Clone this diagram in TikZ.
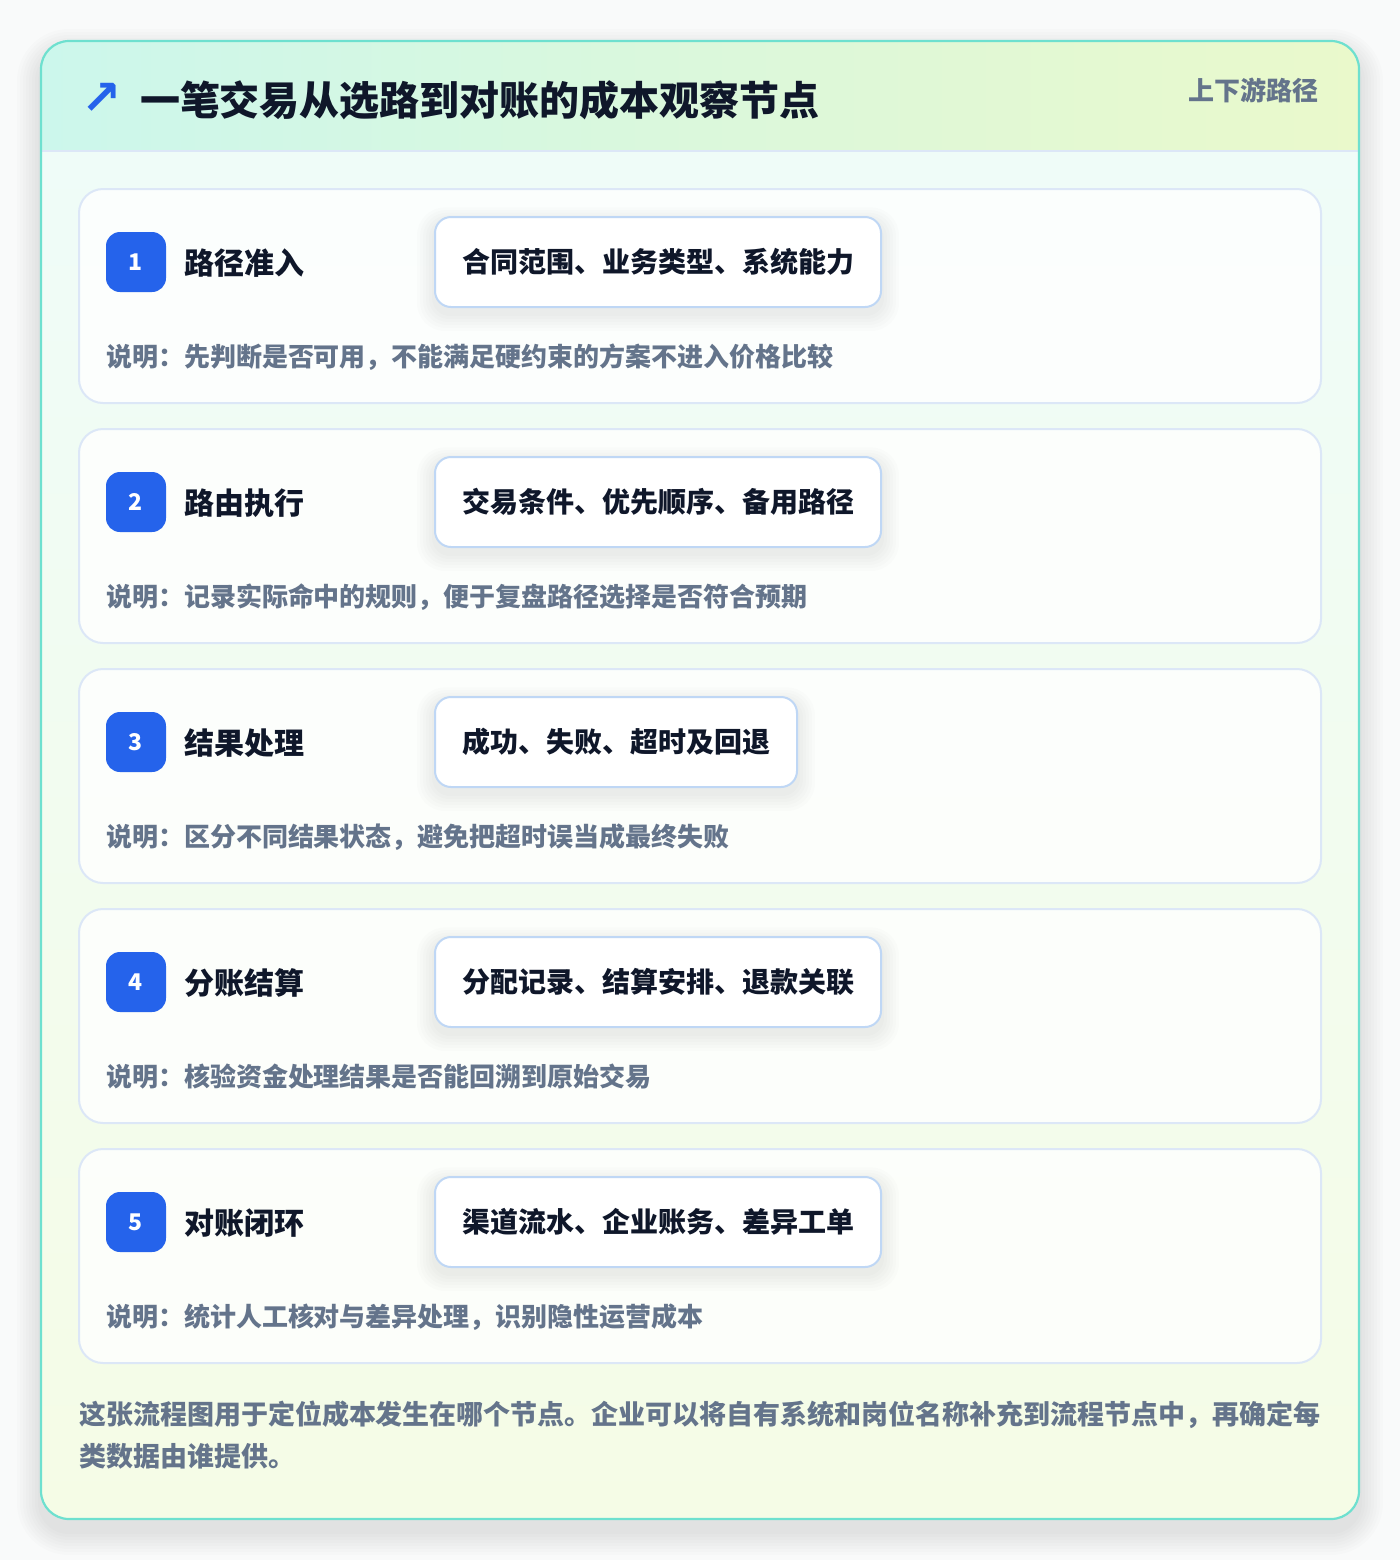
\documentclass[tikz,border=0pt]{standalone}
\usepackage{fontspec}
\setmainfont{Noto Sans CJK SC}
\newfontfamily\symfont{DejaVu Sans}
\usepackage{xcolor}
\usetikzlibrary{positioning}

\definecolor{pagebg}{HTML}{F9FAFA}
\definecolor{frame}{HTML}{6EE0CF}
\definecolor{headl}{HTML}{CCF7EC}
\definecolor{headr}{HTML}{EAF9CB}
\definecolor{bodyt}{HTML}{EFFCF8}
\definecolor{bodyb}{HTML}{F5FCE6}
\definecolor{rowline}{HTML}{DCE7F7}
\definecolor{tagline}{HTML}{BFD7F5}
\definecolor{badge}{HTML}{2563EB}
\definecolor{ink}{HTML}{0F172A}
\definecolor{muted}{HTML}{64748B}

\pgfdeclarelayer{back}
\pgfdeclarelayer{shade}
\pgfsetlayers{back,shade,main}

\begin{document}
\begin{tikzpicture}
  [x=0.5pt,y=-0.5pt,
   every node/.style={inner sep=0pt, outer sep=0pt},
   rowbox/.style={draw=rowline, line width=1pt, fill=white, fill opacity=0.8, rounded corners=12pt},
   badgebox/.style={fill=badge, text=white, rounded corners=7pt, minimum size=30pt, font=\fontsize{11.5}{13}\bfseries},
   steptitle/.style={anchor=west, text=ink, font=\fontsize{15}{18}\bfseries},
   tagbox/.style={draw=tagline, line width=1pt, fill=white, rounded corners=8pt, anchor=west, minimum height=45pt, inner xsep=13.5pt, text=ink, font=\fontsize{14}{17}\bfseries},
   note/.style={anchor=west, text=muted, font=\fontsize{13}{16}\bfseries}]

  % page and card
  \useasboundingbox (0,0) rectangle (1400,1560);
  \begin{pgfonlayer}{back}
    \fill[pagebg] (0,0) rectangle (1400,1560);
    \foreach \k in {1,...,8}
      \fill[black, opacity=0.013, rounded corners=14pt+\k*1.5pt]
        (41-\k*3,41-\k*3+12) rectangle (1359+\k*3,1519+\k*3+12);
    \begin{scope}
      \clip[rounded corners=14pt] (41,41) rectangle (1359,1519);
      \shade[left color=headl, right color=headr] (41,41) rectangle (1359,151);
      \shade[top color=bodyt, bottom color=bodyb] (41,151) rectangle (1359,1519);
    \end{scope}
    \draw[rowline, line width=1pt] (41,151) -- (1359,151);
    \draw[frame, line width=1.1pt, rounded corners=14pt] (41,41) rectangle (1359,1519);
  \end{pgfonlayer}

  % header
  \node[text=badge, font=\symfont\bfseries\fontsize{24}{28}\selectfont] (icon) at (102,99) {↗};
  \node[anchor=west, text=ink, font=\fontsize{20}{24}\bfseries] (title) at (140,100) {一笔交易从选路到对账的成本观察节点};
  \node[anchor=east, text=muted, font=\fontsize{13}{16}\bfseries] (path) at (1318,90) {上下游路径};

  % steps
  \foreach \i/\step/\tags/\desc in {
    1/路径准入/合同范围、业务类型、系统能力/说明：先判断是否可用，不能满足硬约束的方案不进入价格比较,
    2/路由执行/交易条件、优先顺序、备用路径/说明：记录实际命中的规则，便于复盘路径选择是否符合预期,
    3/结果处理/成功、失败、超时及回退/说明：区分不同结果状态，避免把超时误当成最终失败,
    4/分账结算/分配记录、结算安排、退款关联/说明：核验资金处理结果是否能回溯到原始交易,
    5/对账闭环/渠道流水、企业账务、差异工单/说明：统计人工核对与差异处理，识别隐性运营成本}
  {
    \pgfmathsetmacro{\rowy}{189+240*(\i-1)}
    \begin{pgfonlayer}{back}
      \draw[rowbox] (79,\rowy) rectangle (1321,\rowy+214);
    \end{pgfonlayer}
    \node[badgebox] (b\i) at (136,\rowy+73) {\i};
    \node[steptitle] (s\i) at (184,\rowy+74) {\step};
    \node[tagbox] (g\i) at (435,\rowy+73) {\tags};
    \node[note] (d\i) at (106,\rowy+168) {\desc};
    \begin{pgfonlayer}{shade}
      \foreach \k in {1,...,6}
        \fill[black, opacity=0.01, rounded corners=8pt+\k*1pt]
          ([xshift=-\k*1.5pt, yshift=\k*1.3pt-3pt]g\i.north west) rectangle
          ([xshift=\k*1.5pt, yshift=-\k*1.5pt-3pt]g\i.south east);
    \end{pgfonlayer}
  }

  % footer
  \node[anchor=north west, align=left, text=muted, font=\fontsize{13.5}{21}\bfseries] (foot) at (79,1401)
    {这张流程图用于定位成本发生在哪个节点。企业可以将自有系统和岗位名称补充到流程节点中，再确定每\\类数据由谁提供。};
\end{tikzpicture}
\end{document}
